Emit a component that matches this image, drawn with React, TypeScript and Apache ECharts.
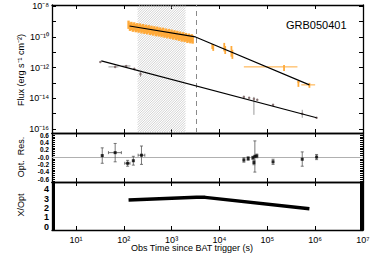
import React, { useEffect, useRef } from 'react';
import * as echarts from 'echarts';

// ---- axis ticks / labels ----
const xTickExps = [1, 2, 3, 4, 5, 6, 7];
const xTickLabels = ['10¹', '10²', '10³', '10⁴', '10⁵', '10⁶', '10⁷'];
const fluxTickExps = [-16, -15, -14, -13, -12, -11, -10, -9, -8];
const fluxLabelExps = [-16, -14, -12, -10, -8];
const fluxTickLabels = ['10⁻¹⁶', '10⁻¹⁴', '10⁻¹²', '10⁻¹⁰', '10⁻⁸'];
const resTicks = [-0.6, -0.4, -0.2, 0, 0.2, 0.4, 0.6];
const resTickLabels = ['-0.6', '-0.4', '-0.2', '-0.0', '0.2', '0.4', '0.6'];
const ratioTicks = [0, 1, 2, 3, 4];
const ratioTickLabels = ['0', '1', '2', '3', '4'];

// ---- data (log10 time [s], log10 flux) ----
const xrayEarlyT = [2.10, 2.13, 2.16, 2.19, 2.22, 2.25, 2.28, 2.31, 2.34, 2.37, 2.40, 2.43, 2.46, 2.49, 2.52, 2.55, 2.58, 2.61, 2.64, 2.67, 2.70, 2.73, 2.76, 2.79, 2.82, 2.85, 2.88, 2.91, 2.94, 2.97, 3.00, 3.03, 3.06, 3.09, 3.12, 3.15, 3.18, 3.21, 3.24, 3.27, 3.30, 3.33, 3.36, 3.39, 3.42, 3.44];
const xrayEarlyF = [-9.22, -9.35, -9.30, -9.41, -9.33, -9.44, -9.38, -9.47, -9.40, -9.52, -9.44, -9.55, -9.48, -9.58, -9.50, -9.62, -9.55, -9.66, -9.58, -9.70, -9.61, -9.72, -9.66, -9.76, -9.68, -9.80, -9.73, -9.84, -9.76, -9.87, -9.80, -9.92, -9.84, -9.95, -9.88, -10.00, -9.93, -10.05, -9.97, -10.08, -10.02, -10.14, -10.06, -10.16, -10.10, -10.18];
const xrayEarlyErr = 0.27;
// later X-ray: [log t, log F, t lo, t hi, F lo, F hi]
const xrayLate = [
  [3.85, -10.62, 3.85, 3.85, -10.80, -10.47],
  [3.87, -10.70, 3.87, 3.87, -10.92, -10.55],
  [4.10, -10.68, 4.10, 4.10, -10.95, -10.40],
  [4.12, -10.80, 4.12, 4.12, -11.12, -10.60],
  [4.25, -11.00, 4.25, 4.25, -11.30, -10.60],
  [4.27, -11.10, 4.27, 4.27, -11.44, -10.85],
  [5.35, -11.96, 4.51, 5.63, -12.22, -11.83],
  [5.65, -12.94, 5.62, 5.68, -13.26, -12.87],
  [5.88, -13.13, 5.71, 6.00, -13.32, -13.00],
];
// optical: [log t, log F, t lo, t hi, F lo, F hi]
const optData = [
  [1.51, -11.64, 1.51, 1.51, -11.70, -11.58],
  [1.82, -11.96, 1.68, 1.89, -12.02, -11.90],
  [2.05, -11.90, 1.97, 2.14, -11.96, -11.84],
  [2.22, -12.09, 2.22, 2.22, -12.15, -12.03],
  [2.35, -12.42, 2.35, 2.35, -12.61, -12.30],
  [4.51, -13.91, 4.51, 4.51, -13.97, -13.85],
  [4.62, -13.97, 4.62, 4.62, -14.03, -13.91],
  [4.72, -14.04, 4.72, 4.72, -15.08, -13.91],
  [4.79, -14.10, 4.79, 4.79, -14.16, -14.04],
  [5.12, -14.43, 5.12, 5.12, -14.49, -14.37],
  [5.73, -15.01, 5.73, 5.73, -15.27, -14.75],
  [6.03, -15.27, 6.03, 6.03, -15.32, -15.22],
];
const xrayModelT = [2.12, 3.50, 5.88];
const xrayModelF = [-9.30, -10.01, -13.13];
const optModelT = [1.53, 6.03];
const optModelF = [-11.57, -15.27];
const hatchRange = [2.29, 3.29];
const breakTime = 3.525;
// residuals: [log t, res, t lo, t hi, res lo, res hi]
const resData = [
  [1.55, 0.04, 1.55, 1.55, -0.17, 0.25],
  [1.82, 0.12, 1.68, 1.95, -0.13, 0.37],
  [2.08, -0.17, 2.02, 2.13, -0.25, -0.09],
  [2.20, -0.10, 2.20, 2.20, -0.22, 0.02],
  [2.37, 0.05, 2.30, 2.44, -0.20, 0.30],
  [4.51, -0.08, 4.51, 4.51, -0.14, -0.02],
  [4.60, -0.04, 4.60, 4.60, -0.09, 0.01],
  [4.70, -0.02, 4.70, 4.70, -0.06, 0.02],
  [4.72, -0.15, 4.72, 4.72, -0.21, -0.09],
  [4.74, 0.02, 4.74, 4.74, -0.41, 0.44],
  [4.78, 0.03, 4.78, 4.78, -0.02, 0.08],
  [5.12, -0.13, 5.12, 5.12, -0.20, -0.06],
  [5.73, -0.06, 5.73, 5.73, -0.25, 0.14],
  [6.03, 0.00, 6.03, 6.03, -0.07, 0.07],
];
// X-ray / optical ratio
const ratioT = [2.10, 3.52, 3.70, 5.88];
const ratioV = [2.84, 3.13, 3.12, 1.92];

const X_MIN = 0.5, X_MAX = 7;
const F_MIN = -16.26, F_MAX = -7.935;
const R_MIN = -0.68, R_MAX = 0.655;
const Q_MIN = -0.32, Q_MAX = 4.74;

const FONT = 'Liberation Sans, Arial, Helvetica, sans-serif';
const ORANGE = '#ffaa3a';

function errRender(color: string, vWidth: number, hWidth: number, cap: number) {
  return (params: any, api: any) => {
    const x = api.value(0), y = api.value(1);
    const xlo = api.value(2), xhi = api.value(3), ylo = api.value(4), yhi = api.value(5);
    const vs = { stroke: color, lineWidth: vWidth };
    const hs = { stroke: color, lineWidth: hWidth };
    const children: any[] = [];
    if (xhi > xlo) {
      const a = api.coord([xlo, y]), b = api.coord([xhi, y]);
      children.push({ type: 'line', shape: { x1: a[0], y1: a[1], x2: b[0], y2: b[1] }, style: hs });
      if (cap > 0) {
        children.push({ type: 'line', shape: { x1: a[0], y1: a[1] - cap, x2: a[0], y2: a[1] + cap }, style: hs });
        children.push({ type: 'line', shape: { x1: b[0], y1: b[1] - cap, x2: b[0], y2: b[1] + cap }, style: hs });
      }
    }
    if (yhi > ylo) {
      const a = api.coord([x, ylo]), b = api.coord([x, yhi]);
      children.push({ type: 'line', shape: { x1: a[0], y1: a[1], x2: b[0], y2: b[1] }, style: vs });
      if (cap > 0) {
        children.push({ type: 'line', shape: { x1: a[0] - cap, y1: a[1], x2: a[0] + cap, y2: a[1] }, style: vs });
        children.push({ type: 'line', shape: { x1: b[0] - cap, y1: b[1], x2: b[0] + cap, y2: b[1] }, style: vs });
      }
    }
    return { type: 'group', children };
  };
}

function hatchRender(params: any, api: any) {
  const p0 = api.coord([api.value(0), F_MAX]);
  const p1 = api.coord([api.value(1), F_MIN]);
  const x0 = p0[0], y0 = p0[1], x1 = p1[0], y1 = p1[1];
  const children: any[] = [];
  const step = 2.4;
  for (let c = x0 + y0; c <= x1 + y1; c += step) {
    const xa = Math.max(x0, c - y1);
    const xb = Math.min(x1, c - y0);
    if (xb <= xa) continue;
    children.push({
      type: 'line',
      shape: { x1: xa, y1: c - xa, x2: xb, y2: c - xb },
      style: { stroke: '#b4b4b4', lineWidth: 0.6 },
    });
  }
  return { type: 'group', children };
}

export default function App() {
  const ref = useRef<HTMLDivElement>(null);
  useEffect(() => {
    if (!ref.current) return;
    const chart = echarts.init(ref.current, undefined, { renderer: 'svg' });

    const grids = [
      { left: 52, right: 11, top: 5, height: 128 },
      { left: 52, right: 11, top: 133, height: 49 },
      { left: 52, right: 11, top: 182, height: 48 },
    ];
    const axisLine = { show: true, onZero: false, lineStyle: { color: '#000', width: 1.3 } };
    const xAxisFor = (gi: number, pos: 'bottom' | 'top', labels: boolean) => ({
      type: 'value', gridIndex: gi, position: pos, min: X_MIN, max: X_MAX,
      axisLine, splitLine: { show: false },
      axisTick: { show: true, inside: true, length: 4, customValues: xTickExps, lineStyle: { color: '#000', width: 1 } },
      axisLabel: {
        show: labels, customValues: xTickExps, margin: 5,
        formatter: (v: number) => xTickLabels[xTickExps.indexOf(Math.round(v))] ?? '',
        fontFamily: FONT, fontSize: 9, color: '#000',
      },
    });
    const xAxes = [
      xAxisFor(0, 'bottom', false), xAxisFor(1, 'bottom', false), xAxisFor(2, 'bottom', true),
      xAxisFor(0, 'top', false), xAxisFor(1, 'top', false), xAxisFor(2, 'top', false),
    ];
    const resMinor: number[] = [];
    for (let v = -0.65; v <= 0.651; v += 0.05) resMinor.push(Math.round(v * 100) / 100);
    const ratioMinor: number[] = [];
    for (let v = -0.3; v <= 4.71; v += 0.1) ratioMinor.push(Math.round(v * 10) / 10);

    const yAxisFor = (gi: number, pos: 'left' | 'right', labels: boolean) => {
      const base: any = { type: 'value', gridIndex: gi, position: pos, axisLine, splitLine: { show: false } };
      const lbl: any = { fontFamily: FONT, fontSize: 9, color: '#000', margin: 3, show: labels, hideOverlap: false };
      if (gi === 0) {
        return {
          ...base, min: F_MIN, max: F_MAX,
          axisTick: { show: true, inside: true, length: 4, customValues: fluxTickExps, lineStyle: { color: '#000' } },
          axisLabel: { ...lbl, customValues: fluxLabelExps, formatter: (v: number) => fluxTickLabels[fluxLabelExps.indexOf(Math.round(v))] ?? '' },
        };
      } else if (gi === 1) {
        return {
          ...base, min: R_MIN, max: R_MAX,
          axisTick: { show: true, inside: true, length: 3, customValues: resMinor, lineStyle: { color: '#000' } },
          axisLabel: {
            ...lbl, fontSize: 6.5, lineHeight: 6, fontWeight: 'bold', customValues: resTicks,
            formatter: (v: number) => resTickLabels[resTicks.findIndex((t) => Math.abs(t - v) < 1e-6)] ?? '',
          },
        };
      }
      return {
        ...base, min: Q_MIN, max: Q_MAX,
        axisTick: { show: true, inside: true, length: 3, customValues: ratioMinor, lineStyle: { color: '#000' } },
        axisLabel: { ...lbl, fontSize: 9, fontWeight: 'bold', customValues: ratioTicks, formatter: (v: number) => ratioTickLabels[ratioTicks.indexOf(Math.round(v))] ?? '' },
      };
    };
    const yAxes = [
      yAxisFor(0, 'left', true), yAxisFor(1, 'left', true), yAxisFor(2, 'left', true),
      yAxisFor(0, 'right', false), yAxisFor(1, 'right', false), yAxisFor(2, 'right', false),
    ];

    const xrayEarly = xrayEarlyT.map((t, i) => [t, xrayEarlyF[i], t - 0.01, t + 0.01, xrayEarlyF[i] - xrayEarlyErr, xrayEarlyF[i] + xrayEarlyErr]);

    const option: any = {
      animation: false,
      grid: grids,
      xAxis: xAxes,
      yAxis: yAxes,
      series: [
        {
          type: 'custom', name: 'hatch', xAxisIndex: 0, yAxisIndex: 0, z: 1,
          renderItem: hatchRender, data: [hatchRange], encode: { x: [0, 1] }, silent: true,
        },
        {
          type: 'line', name: 'break', xAxisIndex: 0, yAxisIndex: 0, z: 2, silent: true,
          data: [], showSymbol: false,
          markLine: {
            silent: true, symbol: 'none', label: { show: false },
            lineStyle: { color: '#8a8a8a', type: [5, 4], width: 1 },
            data: [{ xAxis: breakTime }],
          },
        },
        {
          type: 'custom', name: 'xrayEarly', xAxisIndex: 0, yAxisIndex: 0, z: 3,
          renderItem: errRender(ORANGE, 2.4, 1, 0), data: xrayEarly, encode: { x: 0, y: 1 },
        },
        {
          type: 'custom', name: 'xrayLate', xAxisIndex: 0, yAxisIndex: 0, z: 3,
          renderItem: errRender(ORANGE, 1.8, 1, 0), data: xrayLate, encode: { x: 0, y: 1 },
        },
        {
          type: 'custom', name: 'optErr', xAxisIndex: 0, yAxisIndex: 0, z: 3,
          renderItem: errRender('#9a9a9a', 1, 1, 0), data: optData, encode: { x: 0, y: 1 },
        },
        {
          type: 'scatter', name: 'opt', xAxisIndex: 0, yAxisIndex: 0, z: 4,
          data: optData.map((d) => [d[0], d[1]]), symbol: 'circle', symbolSize: 2.5,
          itemStyle: { color: '#7a6262' },
        },
        {
          type: 'line', name: 'xrayModel', xAxisIndex: 0, yAxisIndex: 0, z: 5,
          data: xrayModelT.map((t, i) => [t, xrayModelF[i]]), showSymbol: false,
          lineStyle: { color: '#000', width: 1.1 },
        },
        {
          type: 'line', name: 'optModel', xAxisIndex: 0, yAxisIndex: 0, z: 5,
          data: optModelT.map((t, i) => [t, optModelF[i]]), showSymbol: false,
          lineStyle: { color: '#000', width: 1.1 },
        },
        {
          type: 'custom', name: 'resErr', xAxisIndex: 1, yAxisIndex: 1, z: 3,
          renderItem: errRender('#555', 0.8, 0.8, 1.5), data: resData, encode: { x: 0, y: 1 },
        },
        {
          type: 'scatter', name: 'res', xAxisIndex: 1, yAxisIndex: 1, z: 4,
          data: resData.map((d) => [d[0], d[1]]), symbol: 'rect', symbolSize: 3,
          itemStyle: { color: '#000' },
          markLine: {
            silent: true, symbol: 'none', label: { show: false }, z: 2,
            lineStyle: { color: '#b0b0b0', type: 'solid', width: 1 },
            data: [{ yAxis: 0 }],
          },
        },
        {
          type: 'line', name: 'ratio', xAxisIndex: 2, yAxisIndex: 2, z: 4,
          data: ratioT.map((t, i) => [t, ratioV[i]]), showSymbol: false,
          lineStyle: { color: '#000', width: 3.5 },
        },
      ],
      graphic: [
        { type: 'text', x: 286, y: 25, style: { text: 'GRB050401', font: `11px ${FONT}`, fill: '#000', verticalAlign: 'middle' } },
        { type: 'text', x: 21, y: 70, rotation: Math.PI / 2, style: { text: 'Flux (erg s⁻¹ cm⁻²)', font: `9px ${FONT}`, fill: '#000', align: 'center', verticalAlign: 'middle' } },
        { type: 'text', x: 21, y: 157, rotation: Math.PI / 2, style: { text: 'Opt.  Res.', font: `9px ${FONT}`, fill: '#000', align: 'center', verticalAlign: 'middle' } },
        { type: 'text', x: 21, y: 205, rotation: Math.PI / 2, style: { text: 'X/Opt', font: `9px ${FONT}`, fill: '#000', align: 'center', verticalAlign: 'middle' } },
        { type: 'text', x: 192, y: 248, style: { text: 'Obs Time since BAT trigger (s)', font: `9px ${FONT}`, fill: '#000', align: 'center', verticalAlign: 'middle' } },
      ],
    };
    chart.setOption(option);
    return () => chart.dispose();
  }, []);
  return <div ref={ref} style={{ position: 'absolute', left: 0, top: 0, width: 374, height: 267, background: '#fff' }} />;
}
